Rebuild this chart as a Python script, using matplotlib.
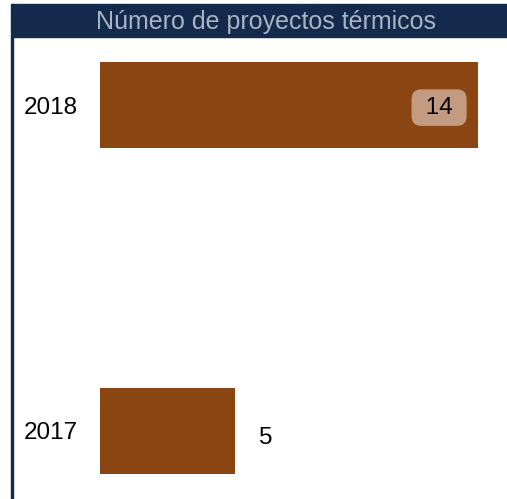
import matplotlib.pyplot as plt
from matplotlib.patches import Rectangle

years = ['2017', '2018']
projects = [5, 14]
title = 'Número de proyectos térmicos'

bar_color = '#8b4513'
navy = '#132a4c'

plt.rcParams['font.family'] = ['Liberation Sans', 'DejaVu Sans']

fig = plt.figure(figsize=(5.07, 4.99), dpi=100)

# title band and left border
fig.patches.append(Rectangle((12 / 507, 462 / 499), 495 / 507, 33 / 499,
                             transform=fig.transFigure, color=navy, zorder=0))
fig.patches.append(Rectangle((11 / 507, 0), 2 / 507, 495 / 499,
                             transform=fig.transFigure, color=navy, zorder=0))
fig.text(266 / 507, 477 / 499, title, ha='center', va='center',
         color='#a9b4c2', fontsize=18)

ax = fig.add_axes([100 / 507, 0, 407 / 507, 462 / 499])
ypos = list(range(len(years)))
ax.barh(ypos, projects, height=0.264, color=bar_color)
ax.set_xlim(0, 407 / 27)
ax.set_ylim(-0.209, 1.209)
ax.set_yticks(ypos)
ax.set_yticklabels(years, fontsize=17.5, va='center_baseline')
ax.tick_params(axis='y', length=0, pad=16)
ax.set_xticks([])
for s in ax.spines.values():
    s.set_visible(False)

for y, v in zip(ypos, projects):
    if v > 10:
        ax.annotate(' %d ' % v, xy=(v, y), xytext=(-28, 0), textcoords='offset points',
                    ha='center', va='center_baseline', fontsize=17.5, color='black',
                    bbox=dict(boxstyle='round,pad=0.3,rounding_size=0.4',
                              fc='#c29b81', ec='none'))
    else:
        ax.annotate(str(v), xy=(v, y), xytext=(22, -3), textcoords='offset points',
                    ha='center', va='center_baseline', fontsize=17.5, color='black')

fig.savefig('out.png', dpi=100)
